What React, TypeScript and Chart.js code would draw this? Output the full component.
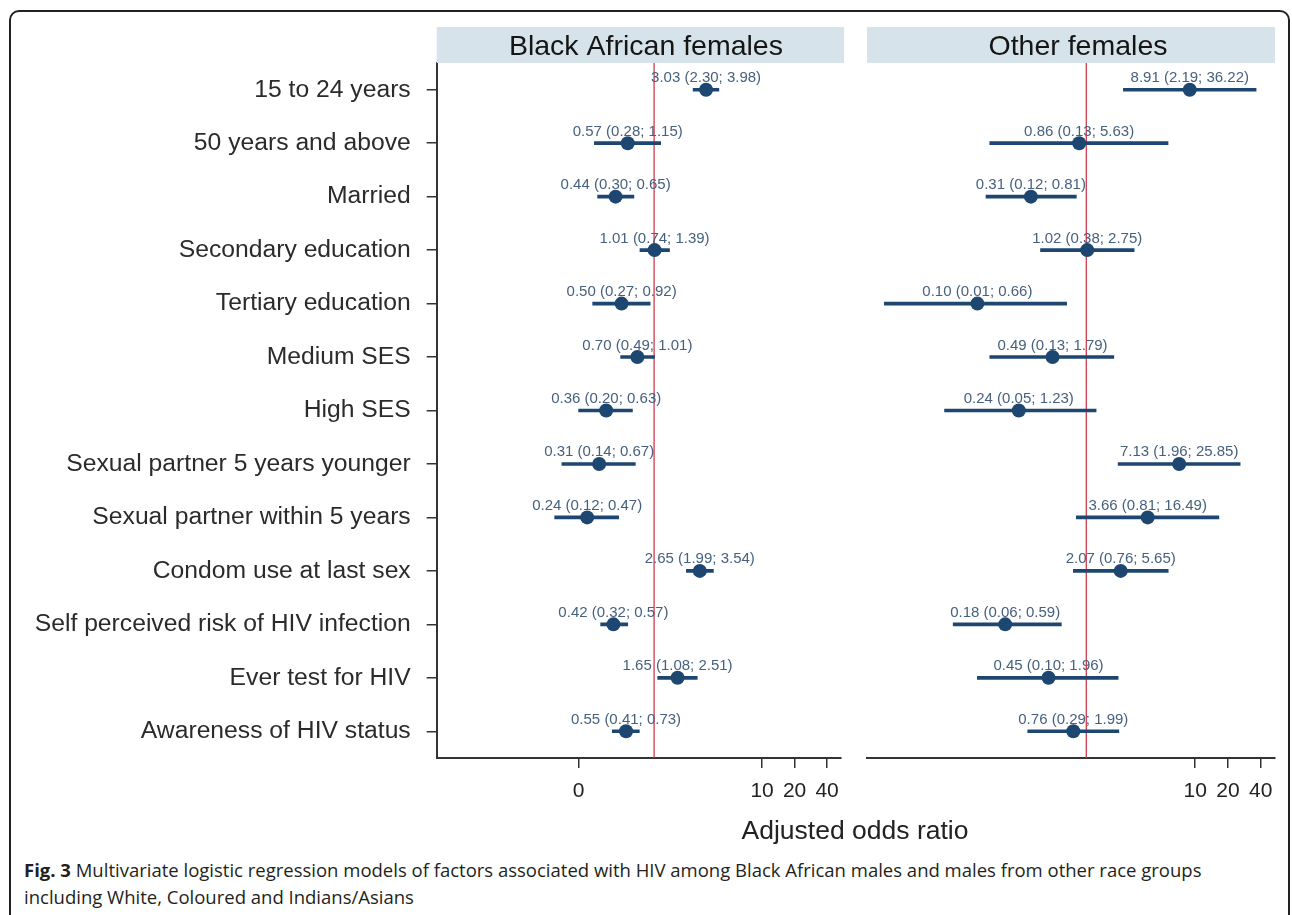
import React, { useEffect, useRef } from "react";
import { Chart, registerables } from "chart.js";

Chart.register(...registerables);

// ---------- data ----------
const categories = [
  "15 to 24 years",
  "50 years and above",
  "Married",
  "Secondary education",
  "Tertiary education",
  "Medium SES",
  "High SES",
  "Sexual partner 5 years younger",
  "Sexual partner within 5 years",
  "Condom use at last sex",
  "Self perceived risk of HIV infection",
  "Ever test for HIV",
  "Awareness of HIV status",
];

const blackOR = [3.03, 0.57, 0.44, 1.01, 0.5, 0.7, 0.36, 0.31, 0.24, 2.65, 0.42, 1.65, 0.55];
const blackLow = [2.3, 0.28, 0.3, 0.74, 0.27, 0.49, 0.2, 0.14, 0.12, 1.99, 0.32, 1.08, 0.41];
const blackHigh = [3.98, 1.15, 0.65, 1.39, 0.92, 1.01, 0.63, 0.67, 0.47, 3.54, 0.57, 2.51, 0.73];

const otherOR = [8.91, 0.86, 0.31, 1.02, 0.1, 0.49, 0.24, 7.13, 3.66, 2.07, 0.18, 0.45, 0.76];
const otherLow = [2.19, 0.13, 0.12, 0.38, 0.014, 0.13, 0.05, 1.96, 0.81, 0.76, 0.06, 0.1, 0.29];
const otherHigh = [36.22, 5.63, 0.81, 2.75, 0.66, 1.79, 1.23, 25.85, 16.49, 5.65, 0.59, 1.96, 1.99];

const leftTickValues = [0.2, 10, 20, 40];
const leftTickLabels = ["0", "10", "20", "40"];
const rightTickValues = [10, 20, 40];
const rightTickLabels = ["10", "20", "40"];

const panelTitles = ["Black African females", "Other females"];
const xAxisTitle = "Adjusted odds ratio";
const referenceValue = 1;
const xMin = 0.0097;
const xMax = 54;

// ---------- styles ----------
const FONT = '"Liberation Sans", Arial, Helvetica, sans-serif';
const MARK = "#1d4670";
const LABEL_COLOR = "#46617f";
const REF_COLOR = "#d03a4c";
const HEADER_BG = "#d6e3eb";
const AXIS = "#333333";
const HEADER_TOP = 27;
const CANVAS_H = 820;
const PLOT_TOP = 63;
const PLOT_BOTTOM = 758;

const fmt = (v: number) => v.toFixed(2);

type PanelProps = {
  or: number[];
  low: number[];
  high: number[];
  tickValues: number[];
  tickLabels: string[];
  title: string;
  showY: boolean;
  left: number;
  width: number;
  padLeft: number;
  padRight: number;
  yWidth: number;
};

function Panel(p: PanelProps) {
  const ref = useRef<HTMLCanvasElement | null>(null);

  useEffect(() => {
    if (!ref.current) return;
    const decor = {
      id: "panelDecor",
      beforeDatasetsDraw(chart: any) {
        const { ctx, chartArea, scales } = chart;
        ctx.save();
        ctx.fillStyle = HEADER_BG;
        ctx.fillRect(chartArea.left, HEADER_TOP, chartArea.right - chartArea.left + (p.showY ? 3 : 0), chartArea.top - HEADER_TOP);
        ctx.fillStyle = "#151515";
        ctx.font = `28.5px ${FONT}`;
        ctx.textAlign = "center";
        ctx.textBaseline = "alphabetic";
        ctx.fillText(p.title, (chartArea.left + chartArea.right) / 2 + 7, 55);
        const x = scales.x.getPixelForValue(referenceValue);
        ctx.strokeStyle = REF_COLOR;
        ctx.lineWidth = 1.3;
        ctx.beginPath();
        ctx.moveTo(x, chartArea.top);
        ctx.lineTo(x, chartArea.bottom);
        ctx.stroke();
        ctx.restore();
      },
      afterDatasetsDraw(chart: any) {
        const { ctx } = chart;
        const meta = chart.getDatasetMeta(1);
        ctx.save();
        ctx.fillStyle = LABEL_COLOR;
        ctx.font = `15px ${FONT}`;
        ctx.textAlign = "center";
        ctx.textBaseline = "alphabetic";
        meta.data.forEach((pt: any, i: number) => {
          const txt = `${fmt(p.or[i])} (${fmt(p.low[i])}; ${fmt(p.high[i])})`;
          ctx.fillText(txt, pt.x, pt.y - 7.5);
        });
        ctx.restore();
      },
    };

    const chart = new Chart(ref.current, {
      type: "bar",
      data: {
        labels: categories,
        datasets: [
          {
            type: "bar",
            data: p.low.map((l, i) => [l, p.high[i]]) as any,
            backgroundColor: MARK,
            borderWidth: 0,
            barThickness: 3,
            indexAxis: "y",
            order: 1,
          } as any,
          {
            type: "line",
            data: p.or,
            showLine: false,
            pointRadius: 7,
            pointHoverRadius: 7,
            pointBackgroundColor: MARK,
            pointBorderColor: MARK,
            pointBorderWidth: 0,
            indexAxis: "y",
            order: 0,
          } as any,
        ],
      },
      options: {
        indexAxis: "y",
        responsive: false,
        animation: false,
        maintainAspectRatio: false,
        layout: { padding: { top: PLOT_TOP, left: p.padLeft, right: p.padRight, bottom: 0 } },
        plugins: { legend: { display: false }, tooltip: { enabled: false } },
        scales: {
          x: {
            type: "logarithmic",
            min: xMin,
            max: xMax,
            afterBuildTicks: (s: any) => {
              s.ticks = p.tickValues.map((v) => ({ value: v }));
            },
            afterFit: (s: any) => {
              s.height = CANVAS_H - PLOT_BOTTOM;
            },
            ticks: {
              autoSkip: false,
              maxRotation: 0,
              minRotation: 0,
              padding: 11,
              color: "#222",
              font: { family: FONT, size: 21 },
              callback: (_v: any, i: number) => p.tickLabels[i],
            },
            grid: { drawOnChartArea: false, drawTicks: true, tickLength: 10, color: AXIS, lineWidth: 1.5 },
            border: { display: true, color: AXIS, width: 2 },
          } as any,
          y: {
            type: "category",
            offset: true,
            display: p.showY,
            afterFit: (s: any) => {
              s.width = p.yWidth;
            },
            ticks: { padding: 16, color: "#2b2b2b", font: { family: FONT, size: 24.7 }, autoSkip: false },
            grid: { offset: false, drawOnChartArea: false, drawTicks: true, tickLength: 10, color: AXIS, lineWidth: 1.5 },
            border: { display: true, color: AXIS, width: 2 },
          } as any,
        },
      },
      plugins: [decor as any],
    });
    return () => chart.destroy();
  }, []);

  return (
    <canvas
      ref={ref}
      width={p.width}
      height={CANVAS_H}
      style={{ position: "absolute", left: p.left, top: 0, width: p.width, height: CANVAS_H }}
    />
  );
}

export default function App() {
  return (
    <div style={{ position: "absolute", left: 0, top: 0, width: 1292, height: 915, overflow: "hidden", background: "#fff" }}>
      <div
        style={{
          position: "absolute",
          left: 9,
          top: 10,
          width: 1281,
          height: 940,
          border: "2px solid #222",
          borderRadius: 10,
          boxSizing: "border-box",
        }}
      />
      <Panel
        or={blackOR}
        low={blackLow}
        high={blackHigh}
        tickValues={leftTickValues}
        tickLabels={leftTickLabels}
        title={panelTitles[0]}
        showY={true}
        left={0}
        width={850}
        padLeft={0}
        padRight={7}
        yWidth={436.7}
      />
      <Panel
        or={otherOR}
        low={otherLow}
        high={otherHigh}
        tickValues={rightTickValues}
        tickLabels={rightTickLabels}
        title={panelTitles[1]}
        showY={false}
        left={860}
        width={430}
        padLeft={5}
        padRight={15}
        yWidth={0}
      />
      <div
        style={{
          position: "absolute",
          left: 555,
          width: 600,
          top: 814,
          height: 32,
          lineHeight: "32px",
          textAlign: "center",
          fontFamily: FONT,
          fontSize: 26.5,
          color: "#222",
        }}
      >
        {xAxisTitle}
      </div>
      <div
        style={{
          position: "absolute",
          left: 24,
          top: 856,
          width: 1260,
          fontFamily: '"Open Sans", sans-serif',
          fontSize: 18.5,
          lineHeight: "27px",
          color: "#231f20",
          whiteSpace: "nowrap",
        }}
      >
        <b>Fig. 3</b> Multivariate logistic regression models of factors associated with HIV among Black African males and males from other race groups
        <br />
        including White, Coloured and Indians/Asians
      </div>
    </div>
  );
}
